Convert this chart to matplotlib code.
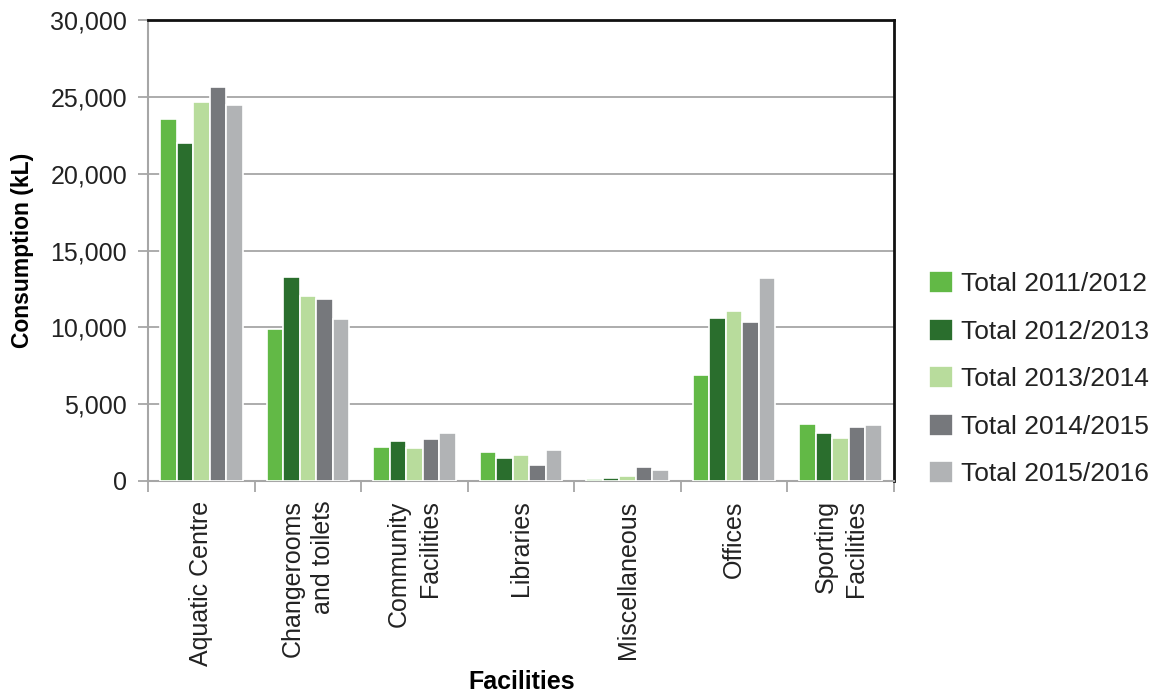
import matplotlib.pyplot as plt
import numpy as np

plt.rcParams['font.family'] = ['Liberation Sans', 'DejaVu Sans']

# ── Data ──────────────────────────────────────────────────────────────────────

facilities = ["Aquatic Centre", "Changerooms\nand toilets", "Community\nFacilities",
              "Libraries", "Miscellaneous", "Offices", "Sporting\nFacilities"]
years = ["Total 2011/2012", "Total 2012/2013", "Total 2013/2014",
         "Total 2014/2015", "Total 2015/2016"]

total_2011_12 = [23550, 9900, 2200, 1880, 150, 6880, 3700]
total_2012_13 = [22000, 13250, 2600, 1500, 200, 10600, 3120]
total_2013_14 = [24650, 12050, 2150, 1700, 320, 11050, 2780]
total_2014_15 = [25630, 11850, 2730, 1050, 880, 10350, 3500]
total_2015_16 = [24450, 10550, 3120, 2020, 730, 13200, 3630]

series = [total_2011_12, total_2012_13, total_2013_14, total_2014_15, total_2015_16]
colors = ["#62b946", "#2a6e2d", "#b8dc9c", "#76787c", "#b1b3b5"]

# ── Plot ──────────────────────────────────────────────────────────────────────

fig = plt.figure(figsize=(11.52, 6.95), dpi=100)
ax = fig.add_axes([0.1285, 0.308, 0.6475, 0.663])

x = np.arange(len(facilities))
width = 0.155
for i, (vals, col, lab) in enumerate(zip(series, colors, years)):
    ax.bar(x + (i - 2) * width, vals, width, color=col, edgecolor="white",
           linewidth=1.2, label=lab, zorder=3)

ax.set_xlim(-0.5, len(facilities) - 0.5)
ax.set_ylim(0, 30000)
ax.set_yticks(np.arange(0, 30001, 5000))
ax.set_yticklabels([f"{v:,}" for v in range(0, 30001, 5000)])
ax.yaxis.grid(True, color="#a6a6a6", linewidth=1.3, zorder=0)

# category labels at the centres, tick marks on the group boundaries
ax.set_xticks(x)
ax.set_xticklabels(facilities, rotation=90, va="top", ha="center",
                   multialignment="right", linespacing=1.35)
ax.set_xticks(np.arange(-0.5, len(facilities)), minor=True)
ax.tick_params(axis="x", which="major", length=0, pad=14, labelsize=18,
               labelcolor="#222222")
ax.tick_params(axis="x", which="minor", length=8, width=1.3, color="#a6a6a6")
ax.tick_params(axis="y", length=7, width=1.3, color="#a6a6a6", pad=8,
               labelsize=18, labelcolor="#222222")

for side in ("left", "bottom"):
    ax.spines[side].set_color("#a6a6a6")
    ax.spines[side].set_linewidth(1.5)
for side in ("top", "right"):
    ax.spines[side].set_color("#111111")
    ax.spines[side].set_linewidth(2.0)

ax.set_ylabel("Consumption (kL)", fontsize=16.5, fontweight="bold", labelpad=12)
fig.text(0.4525, 0.018, "Facilities", fontsize=18, fontweight="bold",
         ha="center", va="center")

fig.legend(loc="center left", bbox_to_anchor=(0.786, 0.455), frameon=False,
           fontsize=19, handlelength=0.9, handleheight=0.9, handletextpad=0.3,
           labelspacing=0.85, labelcolor="#222222")

fig.savefig("out.png", dpi=100)
